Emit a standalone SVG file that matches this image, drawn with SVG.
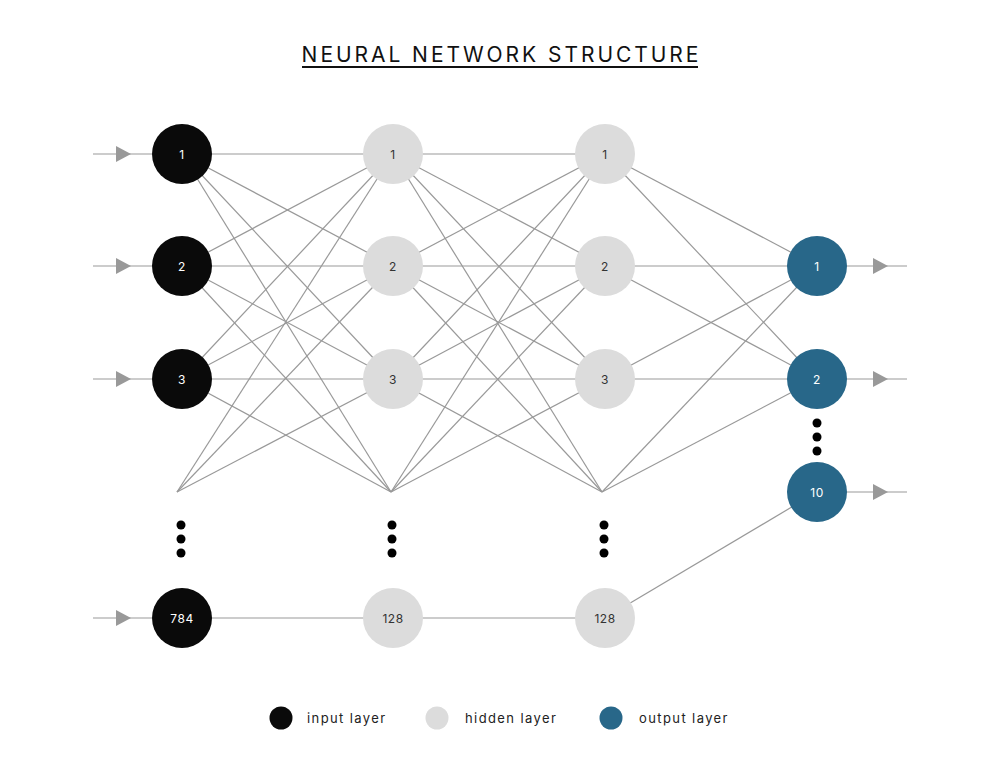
<svg xmlns="http://www.w3.org/2000/svg" width="1000" height="765" viewBox="0 0 1000 765">
<style>
.e{stroke:#999;stroke-width:1.2;fill:none}
.ar{fill:#999}
.in{fill:#0a0a0a}
.hd{fill:#dcdcdc}
.out{fill:#286789}
.lbl{font-family:"Inter","Liberation Sans",sans-serif;font-size:12px;text-anchor:middle;dominant-baseline:central;letter-spacing:0.5px}
.lw{fill:#fff}
.ld{fill:#333}
.dot{fill:#000}
.leg{font-family:"Inter","Liberation Sans",sans-serif;font-size:13px;letter-spacing:1.4px;fill:#222;dominant-baseline:central}
</style>
<defs>
<path id="tri" d="M0,-8 L15,0 L0,8 Z" class="ar"/>
</defs>
<rect width="1000" height="765" fill="#fff"/>
<g id="title">
<text x="501.5" y="62" font-family="Inter,'Liberation Sans',sans-serif" font-size="21" letter-spacing="2.95" text-anchor="middle" fill="#111">NEURAL NETWORK STRUCTURE</text>
<line x1="302" y1="67" x2="698" y2="67" stroke="#111" stroke-width="1.8"/>
</g>
<g id="connectors">
<line class="e" x1="93" y1="154" x2="152" y2="154"/>
<line class="e" x1="93" y1="266" x2="152" y2="266"/>
<line class="e" x1="93" y1="379" x2="152" y2="379"/>
<line class="e" x1="93" y1="618" x2="152" y2="618"/>
<use href="#tri" x="116" y="154"/>
<use href="#tri" x="116" y="266"/>
<use href="#tri" x="116" y="379"/>
<use href="#tri" x="116" y="618"/>
<line class="e" x1="182" y1="154" x2="393" y2="154"/>
<line class="e" x1="182" y1="154" x2="393" y2="266"/>
<line class="e" x1="182" y1="154" x2="393" y2="379"/>
<line class="e" x1="182" y1="154" x2="391" y2="492"/>
<line class="e" x1="182" y1="266" x2="393" y2="154"/>
<line class="e" x1="182" y1="266" x2="393" y2="266"/>
<line class="e" x1="182" y1="266" x2="393" y2="379"/>
<line class="e" x1="182" y1="266" x2="391" y2="492"/>
<line class="e" x1="182" y1="379" x2="393" y2="154"/>
<line class="e" x1="182" y1="379" x2="393" y2="266"/>
<line class="e" x1="182" y1="379" x2="393" y2="379"/>
<line class="e" x1="182" y1="379" x2="391" y2="492"/>
<line class="e" x1="177" y1="492" x2="393" y2="154"/>
<line class="e" x1="177" y1="492" x2="393" y2="266"/>
<line class="e" x1="177" y1="492" x2="393" y2="379"/>
<line class="e" x1="182" y1="618" x2="393" y2="618"/>
<line class="e" x1="393" y1="154" x2="605" y2="154"/>
<line class="e" x1="393" y1="154" x2="605" y2="266"/>
<line class="e" x1="393" y1="154" x2="605" y2="379"/>
<line class="e" x1="393" y1="154" x2="602" y2="492"/>
<line class="e" x1="393" y1="266" x2="605" y2="154"/>
<line class="e" x1="393" y1="266" x2="605" y2="266"/>
<line class="e" x1="393" y1="266" x2="605" y2="379"/>
<line class="e" x1="393" y1="266" x2="602" y2="492"/>
<line class="e" x1="393" y1="379" x2="605" y2="154"/>
<line class="e" x1="393" y1="379" x2="605" y2="266"/>
<line class="e" x1="393" y1="379" x2="605" y2="379"/>
<line class="e" x1="393" y1="379" x2="602" y2="492"/>
<line class="e" x1="391" y1="492" x2="605" y2="154"/>
<line class="e" x1="391" y1="492" x2="605" y2="266"/>
<line class="e" x1="391" y1="492" x2="605" y2="379"/>
<line class="e" x1="393" y1="618" x2="605" y2="618"/>
<line class="e" x1="605" y1="154" x2="817" y2="266"/>
<line class="e" x1="605" y1="154" x2="817" y2="379"/>
<line class="e" x1="605" y1="266" x2="817" y2="266"/>
<line class="e" x1="605" y1="266" x2="817" y2="379"/>
<line class="e" x1="605" y1="379" x2="817" y2="266"/>
<line class="e" x1="605" y1="379" x2="817" y2="379"/>
<line class="e" x1="602" y1="492" x2="817" y2="266"/>
<line class="e" x1="602" y1="492" x2="817" y2="379"/>
<line class="e" x1="605" y1="618" x2="817" y2="492"/>
<line class="e" x1="817" y1="266" x2="907" y2="266"/>
<line class="e" x1="817" y1="379" x2="907" y2="379"/>
<line class="e" x1="817" y1="492" x2="907" y2="492"/>
<use href="#tri" x="873" y="266"/>
<use href="#tri" x="873" y="379"/>
<use href="#tri" x="873" y="492"/>
</g>
<g id="in1"><circle class="in" cx="182" cy="154" r="30"/><text class="lbl lw" x="182" y="154">1</text></g>
<g id="in2"><circle class="in" cx="182" cy="266" r="30"/><text class="lbl lw" x="182" y="266">2</text></g>
<g id="in3"><circle class="in" cx="182" cy="379" r="30"/><text class="lbl lw" x="182" y="379">3</text></g>
<g id="in784"><circle class="in" cx="182" cy="618" r="30"/><text class="lbl lw" x="182" y="618">784</text></g>
<g id="h1_1"><circle class="hd" cx="393" cy="154" r="30"/><text class="lbl ld" x="393" y="154">1</text></g>
<g id="h1_2"><circle class="hd" cx="393" cy="266" r="30"/><text class="lbl ld" x="393" y="266">2</text></g>
<g id="h1_3"><circle class="hd" cx="393" cy="379" r="30"/><text class="lbl ld" x="393" y="379">3</text></g>
<g id="h1_128"><circle class="hd" cx="393" cy="618" r="30"/><text class="lbl ld" x="393" y="618">128</text></g>
<g id="h2_1"><circle class="hd" cx="605" cy="154" r="30"/><text class="lbl ld" x="605" y="154">1</text></g>
<g id="h2_2"><circle class="hd" cx="605" cy="266" r="30"/><text class="lbl ld" x="605" y="266">2</text></g>
<g id="h2_3"><circle class="hd" cx="605" cy="379" r="30"/><text class="lbl ld" x="605" y="379">3</text></g>
<g id="h2_128"><circle class="hd" cx="605" cy="618" r="30"/><text class="lbl ld" x="605" y="618">128</text></g>
<g id="out1"><circle class="out" cx="817" cy="266" r="30"/><text class="lbl lw" x="817" y="266">1</text></g>
<g id="out2"><circle class="out" cx="817" cy="379" r="30"/><text class="lbl lw" x="817" y="379">2</text></g>
<g id="out10"><circle class="out" cx="817" cy="492" r="30"/><text class="lbl lw" x="817" y="492">10</text></g>
<g id="ellipses">
<circle class="dot" cx="181" cy="525" r="4.5"/><circle class="dot" cx="181" cy="539" r="4.5"/><circle class="dot" cx="181" cy="553" r="4.5"/>
<circle class="dot" cx="392" cy="525" r="4.5"/><circle class="dot" cx="392" cy="539" r="4.5"/><circle class="dot" cx="392" cy="553" r="4.5"/>
<circle class="dot" cx="604" cy="525" r="4.5"/><circle class="dot" cx="604" cy="539" r="4.5"/><circle class="dot" cx="604" cy="553" r="4.5"/>
<circle class="dot" cx="817" cy="423" r="4.5"/><circle class="dot" cx="817" cy="437" r="4.5"/><circle class="dot" cx="817" cy="451" r="4.5"/>
</g>
<g id="legend">
<circle class="in" cx="281" cy="718" r="11.5"/><text class="leg" x="307" y="718">input layer</text>
<circle class="hd" cx="437" cy="718" r="11.5"/><text class="leg" x="465" y="718">hidden layer</text>
<circle class="out" cx="611" cy="718" r="11.5"/><text class="leg" x="639" y="718">output layer</text>
</g>
</svg>
